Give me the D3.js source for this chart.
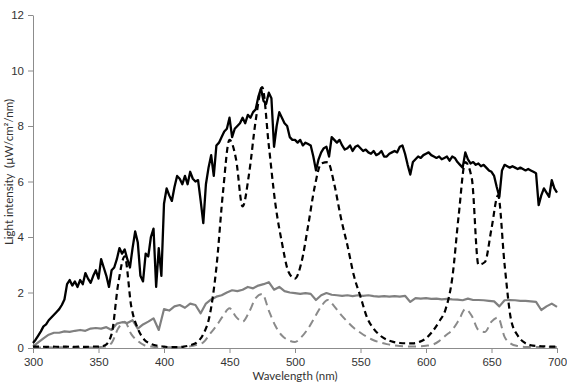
<!DOCTYPE html>
<html>
<head>
<meta charset="utf-8">
<script src="https://cdn.jsdelivr.net/npm/d3@7"></script>
<style>
  body { margin: 0; background: #fff; }
  svg { display: block; font-family: Lato, "Open Sans", sans-serif; }
  .axis text { font-size: 11.5px; fill: #333; }
  .axis path, .axis line { stroke: #8c8c8c; stroke-width: 1; }
</style>
</head>
<body>
<svg id="chart" width="567" height="389"></svg>
<script>
// wavelength grids (nm)
const wl2 = d3.range(300, 701, 2);
const wl4 = d3.range(300, 701, 4);
const wl5 = d3.range(300, 701, 5);

// black solid, 2 nm steps
const blackSolid = [
  0.18, 0.3, 0.45, 0.6, 0.78, 0.85, 1.0, 1.1, 1.2, 1.3,
  1.4, 1.55, 1.75, 2.3, 2.45, 2.25, 2.4, 2.2, 2.45, 2.3,
  2.7, 2.5, 2.35, 2.6, 2.8, 2.5, 3.2, 2.9, 2.6, 2.2,
  2.8, 2.9, 3.2, 3.6, 3.4, 3.55, 3.2, 2.9, 3.6, 4.2,
  3.8, 2.6, 2.4, 3.4, 3.3, 4.0, 4.3, 2.2, 3.6, 2.6,
  5.2, 5.75, 5.5, 5.3, 5.8, 6.2, 6.1, 5.9, 6.2, 5.9,
  6.35, 6.1, 6.0, 6.05, 5.3, 4.5, 5.9, 6.5, 6.95, 6.2,
  7.3, 7.4, 7.6, 7.8, 7.9, 8.3, 7.6, 7.9, 8.0, 8.1,
  8.3, 8.1, 8.4, 8.3, 8.5, 8.6, 9.05, 9.35, 8.9, 8.8,
  9.2, 9.0, 7.25, 8.0, 8.5, 8.3, 8.1, 8.0, 7.6, 7.5,
  7.5, 7.4, 7.5, 7.3, 7.4, 7.35, 7.3, 6.9, 6.4, 6.8,
  7.05, 7.2, 7.25, 6.9, 7.6, 7.5, 7.4, 7.5, 7.3, 7.15,
  7.2, 7.3, 7.1, 7.25, 7.3, 7.2, 7.1, 7.15, 7.05, 7.0,
  7.1, 6.95, 7.0, 7.1, 6.9, 6.9, 7.0, 7.05, 7.1, 7.05,
  7.25, 7.3, 7.0, 6.6, 6.25, 6.7, 6.8, 6.9, 6.85, 6.95,
  7.0, 7.05, 6.95, 6.9, 6.85, 6.9, 6.8, 6.85, 6.9, 6.75,
  6.9, 6.85, 6.7, 6.6, 6.5, 7.05, 6.8, 6.65, 6.7, 6.6,
  6.65, 6.55, 6.6, 6.5, 6.4, 6.35, 6.2, 5.8, 5.45, 6.4,
  6.6, 6.55, 6.5, 6.55, 6.5, 6.45, 6.5, 6.45, 6.4, 6.45,
  6.4, 6.35, 6.3, 5.15, 5.5, 5.75, 5.6, 5.45, 6.05, 5.75,
  5.6
];

// grey solid, 4 nm steps
const greySolid = [
  0.05, 0.2, 0.35, 0.48, 0.55, 0.55, 0.6, 0.58, 0.62, 0.65,
  0.62, 0.7, 0.72, 0.7, 0.75, 0.65, 0.88, 0.93, 0.9, 1.0,
  0.7, 0.85, 0.95, 1.07, 0.65, 1.4, 1.35, 1.5, 1.55, 1.45,
  1.6, 1.55, 1.25, 1.6, 1.75, 1.85, 1.9, 2.0, 2.08, 2.05,
  2.1, 2.2, 2.15, 2.25, 2.3, 2.37, 2.1, 2.2, 2.05, 2.0,
  1.98, 1.95, 1.98, 1.95, 1.73, 1.9, 1.98, 1.92, 1.9, 1.88,
  1.9, 1.87, 1.9, 1.88, 1.9, 1.87, 1.85, 1.87, 1.85, 1.87,
  1.85, 1.88, 1.66, 1.8, 1.78, 1.8, 1.77, 1.78, 1.75, 1.77,
  1.75, 1.74, 1.72, 1.78, 1.73, 1.73, 1.72, 1.7, 1.68, 1.5,
  1.72, 1.73, 1.72, 1.7, 1.7, 1.68, 1.66, 1.37, 1.5, 1.6,
  1.48
];

// black dashed, 5 nm steps
const blackDashed = [
  0.05, 0.05, 0.04, 0.05, 0.04, 0.05, 0.04, 0.05, 0.04, 0.05,
  0.05, 0.1, 0.5, 2.3, 3.3, 1.5, 0.7, 0.3, 0.15, 0.08,
  0.05, 0.03, 0.03, 0.05, 0.1, 0.2, 0.5, 1.2, 2.9, 5.6,
  7.5, 6.8, 5.1, 6.3, 8.2, 9.4, 7.3, 5.2, 3.8, 2.75,
  2.5, 3.1, 4.4, 5.8, 6.65, 6.7, 5.9, 4.7, 3.7, 2.6,
  1.85, 1.1, 0.7, 0.45, 0.3, 0.22, 0.18, 0.17, 0.17, 0.22,
  0.35, 0.6, 0.95, 1.4, 2.5, 4.8, 6.7, 6.1, 3.0, 3.1,
  4.3, 5.5, 3.0, 1.0, 0.45, 0.2, 0.1, 0.07, 0.06, 0.05,
  0.05
];

// grey dashed, 5 nm steps
const greyDashed = [
  0.02, 0.02, 0.03, 0.02, 0.03, 0.02, 0.03, 0.02, 0.03, 0.02,
  0.03, 0.05, 0.18, 0.7, 0.95, 0.5, 0.25, 0.1, 0.05, 0.03,
  0.03, 0.03, 0.03, 0.03, 0.06, 0.12, 0.2, 0.5, 0.8, 1.15,
  1.43, 1.12, 0.95, 1.3, 1.8, 1.95, 1.35, 0.8, 0.45, 0.28,
  0.22, 0.4, 0.7, 1.1, 1.5, 1.73, 1.5, 1.2, 0.95, 0.72,
  0.55, 0.4, 0.28, 0.2, 0.14, 0.1, 0.07, 0.06, 0.05, 0.06,
  0.08, 0.12, 0.25, 0.45, 0.65, 1.0, 1.4, 1.15, 0.65, 0.58,
  0.95, 1.1, 0.4, 0.15, 0.07, 0.04, 0.04, 0.04, 0.04, 0.04,
  0.04
];

const xTicks = [300, 350, 400, 450, 500, 550, 600, 650, 700];
const yTicks = [0, 2, 4, 6, 8, 10, 12];

const svg = d3.select('#chart');

const x = d3.scaleLinear().domain([300, 700]).range([33, 557]);
const y = d3.scaleLinear().domain([0, 12]).range([348, 15]);

// axes
svg.append('g')
  .attr('class', 'axis')
  .attr('transform', 'translate(33,0)')
  .call(d3.axisLeft(y).tickValues(yTicks).tickSize(5).tickPadding(4).tickSizeOuter(0));

svg.append('g')
  .attr('class', 'axis')
  .attr('transform', 'translate(0,348)')
  .call(d3.axisBottom(x).tickValues(xTicks).tickSize(5).tickPadding(5).tickSizeOuter(0));

const lineOf = (wl, curve) => d3.line()
  .x((d, i) => x(wl[i]))
  .y(d => y(d))
  .curve(curve);

// grey dashed
svg.append('path')
  .datum(greyDashed)
  .attr('fill', 'none')
  .attr('stroke', '#8a8a8a')
  .attr('stroke-width', 2)
  .attr('stroke-dasharray', '8,5')
  .attr('d', lineOf(wl5, d3.curveMonotoneX));

// grey solid
svg.append('path')
  .datum(greySolid)
  .attr('fill', 'none')
  .attr('stroke', '#808080')
  .attr('stroke-width', 2.2)
  .attr('stroke-linejoin', 'round')
  .attr('d', lineOf(wl4, d3.curveLinear));

// black dashed
svg.append('path')
  .datum(blackDashed)
  .attr('fill', 'none')
  .attr('stroke', '#000')
  .attr('stroke-width', 2.2)
  .attr('stroke-dasharray', '6,4')
  .attr('d', lineOf(wl5, d3.curveMonotoneX));

// black solid
svg.append('path')
  .datum(blackSolid)
  .attr('fill', 'none')
  .attr('stroke', '#000')
  .attr('stroke-width', 2.3)
  .attr('stroke-linejoin', 'round')
  .attr('d', lineOf(wl2, d3.curveLinear));

// titles
svg.append('text')
  .attr('x', 295)
  .attr('y', 380)
  .attr('text-anchor', 'middle')
  .style('font-size', '11.5px')
  .style('fill', '#333')
  .text('Wavelength (nm)');

svg.append('text')
  .attr('transform', 'translate(13,172) rotate(-90)')
  .attr('text-anchor', 'middle')
  .style('font-size', '11.5px')
  .style('fill', '#333')
  .style('white-space', 'pre')
  .text('Light intensity  (µW/cm²/nm)');
</script>
</body>
</html>
